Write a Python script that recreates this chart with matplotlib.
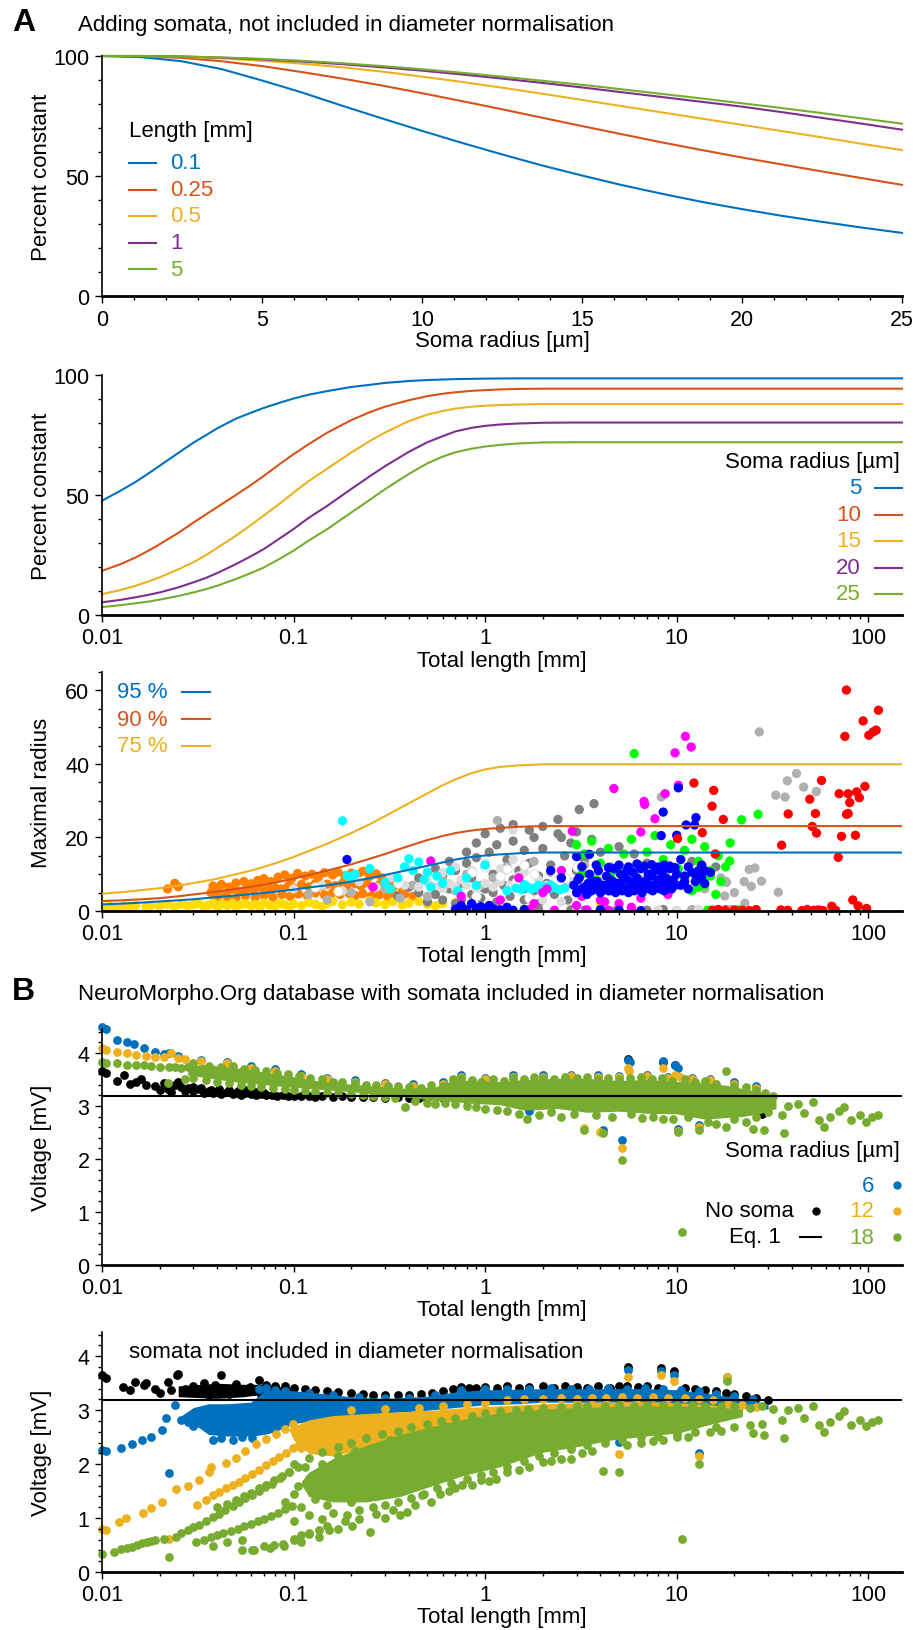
import matplotlib
matplotlib.use("Agg")
import matplotlib.pyplot as plt
from matplotlib.lines import Line2D
from matplotlib.ticker import MultipleLocator, LogLocator, FuncFormatter, NullFormatter

plt.rcParams['font.family'] = ['Liberation Sans', 'DejaVu Sans']

W, H = 919, 1631

BLUE = '#0072BD'
ORANGE = '#D95319'
YELLOW = '#EDB120'
PURPLE = '#7E2F8E'
GREEN = '#77AC30'

# ---------------- A1: percent constant vs soma radius ----------------
a1_radius = [0, 1.25, 2.5, 3.75, 5, 6.25, 7.5, 8.75, 10, 11.25, 12.5,
             13.75, 15, 16.25, 17.5, 18.75, 20, 21.25, 22.5, 23.75, 25]
a1_len_labels = ['0.1', '0.25', '0.5', '1', '5']
a1_l01 = [100, 99.5, 97.8, 94.5, 89.8, 84.8, 79.3, 74, 68.8, 63.8, 59,
          54.4, 50.2, 46.2, 42.6, 39.2, 36.2, 33.4, 30.9, 28.5, 26.3]
a1_l025 = [100, 99.9, 99.2, 97.8, 95.8, 93.3, 90.6, 87.7, 84.5, 81.2, 77.8,
           74.3, 70.8, 67.4, 64, 60.8, 57.7, 54.8, 51.9, 49.1, 46.3]
a1_l05 = [100, 100, 99.6, 99, 98, 96.8, 95.3, 93.5, 91.4, 89.2, 86.8,
          84.3, 81.7, 79.1, 76.5, 73.9, 71.3, 68.7, 66.1, 63.4, 60.8]
a1_l1 = [100, 100, 99.8, 99.3, 98.6, 97.7, 96.6, 95.3, 93.9, 92.3, 90.6,
         88.8, 86.9, 84.9, 82.9, 80.9, 78.9, 76.6, 74.2, 71.8, 69.3]
a1_l5 = [100, 100, 99.8, 99.4, 98.8, 98, 97, 95.8, 94.5, 93, 91.4,
         89.7, 88, 86.1, 84.2, 82.3, 80.3, 78.3, 76.2, 74, 71.8]

# ---------------- A2: percent constant vs total length ----------------
a2_len = [0.01, 0.0125, 0.015, 0.0175, 0.02, 0.025, 0.03, 0.035, 0.04, 0.05,
          0.06, 0.07, 0.085, 0.1, 0.12, 0.15, 0.2, 0.25, 0.3, 0.4,
          0.5, 0.6, 0.7, 0.85, 1, 1.2, 1.5, 2, 3, 5, 10, 150]
a2_soma_labels = ['5', '10', '15', '20', '25']
a2_r5 = [47.6, 51.8, 55.5, 59.0, 62.2, 67.5, 71.8, 75.0, 77.8, 81.8,
         84.3, 86.3, 88.5, 90.2, 91.8, 93.3, 95.0, 95.9, 96.7, 97.5,
         97.9, 98.1, 98.3, 98.4, 98.5, 98.55, 98.6, 98.6, 98.6, 98.6, 98.6, 98.6]
a2_r10 = [18.4, 21.2, 24.0, 26.8, 29.5, 34.2, 38.5, 42.0, 45.0, 50.0,
          54.2, 58.0, 63.0, 67.0, 71.2, 76.0, 81.2, 84.5, 86.8, 89.5,
          91.2, 92.2, 92.8, 93.4, 93.7, 94.0, 94.2, 94.3, 94.3, 94.3, 94.3, 94.3]
a2_r15 = [8.7, 10.4, 12.2, 14.0, 15.7, 19.0, 22.0, 25.0, 28.0, 33.0,
          37.5, 41.5, 46.5, 51.0, 55.8, 61.0, 67.7, 72.5, 76.0, 80.8,
          83.5, 85.0, 86.0, 86.8, 87.2, 87.5, 87.7, 87.9, 87.9, 87.9, 87.9, 87.9]
a2_r20 = [5.3, 6.3, 7.4, 8.4, 9.4, 11.5, 13.6, 15.5, 17.5, 21.2,
          24.5, 27.5, 32.0, 35.8, 40.5, 45.5, 52.5, 57.8, 62.0, 68.0,
          72.0, 74.5, 76.5, 78.0, 78.8, 79.4, 79.8, 80.1, 80.2, 80.2, 80.2, 80.2]
a2_r25 = [3.3, 4.1, 4.9, 5.6, 6.4, 7.9, 9.4, 10.8, 12.2, 15.0,
          17.5, 19.8, 23.5, 26.8, 31.0, 35.8, 42.7, 48.0, 52.4, 58.8,
          63.2, 66.0, 67.8, 69.3, 70.2, 70.9, 71.5, 71.9, 72.0, 72.0, 72.0, 72.0]

# ---------------- A3: maximal radius ----------------
a3_pct_labels = ['95 %', '90 %', '75 %']
a3_p95 = [1.8, 2.0, 2.2, 2.4, 2.6, 2.9, 3.2, 3.5, 3.8, 4.2,
          4.6, 4.9, 5.4, 5.8, 6.4, 7.0, 8.0, 8.9, 9.8, 11.2,
          12.3, 13.2, 14.0, 14.7, 15.1, 15.4, 15.7, 15.9, 15.9, 15.9, 15.9, 15.9]
a3_p90 = [2.7, 2.9, 3.1, 3.3, 3.5, 4.0, 4.5, 4.9, 5.3, 6.0,
          6.6, 7.2, 8.0, 8.8, 9.8, 11.0, 12.7, 14.2, 15.5, 17.7,
          19.3, 20.4, 21.2, 21.9, 22.3, 22.6, 22.9, 23.1, 23.1, 23.1, 23.1, 23.1]
a3_p75 = [4.7, 5.1, 5.5, 5.9, 6.2, 6.9, 7.6, 8.2, 8.8, 10.0,
          11.0, 12.0, 13.4, 14.7, 16.3, 18.3, 21.2, 23.6, 25.8, 29.3,
          32.0, 34.2, 35.8, 37.5, 38.5, 39.2, 39.6, 39.9, 39.9, 39.9, 39.9, 39.9]

a3_orange_x = [0.038, 0.042, 0.046, 0.05, 0.055, 0.06, 0.065, 0.07, 0.076, 0.083,
               0.09, 0.098, 0.105, 0.115, 0.125, 0.135, 0.145, 0.16, 0.17, 0.185,
               0.2, 0.215, 0.23, 0.25, 0.27, 0.29, 0.32, 0.35,
               0.037, 0.04, 0.044, 0.048, 0.052, 0.057, 0.062, 0.068, 0.073, 0.079,
               0.086, 0.094, 0.1, 0.11, 0.12, 0.13, 0.14, 0.15, 0.165, 0.18,
               0.19, 0.21, 0.225, 0.24, 0.26, 0.28, 0.3, 0.33, 0.37,
               0.04, 0.045, 0.05, 0.056, 0.063, 0.07, 0.078, 0.087, 0.096, 0.106,
               0.118, 0.13, 0.145, 0.16, 0.175, 0.195, 0.21, 0.23, 0.255, 0.28,
               0.31, 0.34, 0.38, 0.42, 0.022, 0.024, 0.025]
a3_orange_y = [6.8, 7.2, 6.5, 7.6, 8.0, 7.4, 8.3, 8.8, 8.0, 9.2,
               9.8, 8.9, 10.2, 9.5, 10.0, 9.2, 10.4, 9.8, 10.6, 9.6,
               10.3, 9.9, 10.8, 9.4, 10.1, 9.0, 8.6, 8.0,
               5.0, 5.6, 4.8, 5.9, 5.3, 6.2, 5.5, 6.4, 5.8, 6.6,
               6.0, 6.9, 6.3, 7.2, 6.6, 7.5, 6.8, 7.3, 6.9, 7.6,
               7.0, 7.4, 6.8, 7.7, 6.5, 7.1, 6.2, 6.6, 5.8,
               3.6, 3.9, 3.4, 4.1, 3.7, 4.3, 3.8, 4.5, 4.0, 4.6,
               4.2, 4.9, 4.4, 5.0, 4.5, 4.8, 4.2, 4.7, 4.1, 4.4,
               3.9, 4.3, 4.6, 4.0, 6.0, 7.5, 6.6]
a3_yellow_x = [0.010, 0.011, 0.012, 0.013, 0.014, 0.015, 0.017, 0.018, 0.020, 0.022,
               0.024, 0.026, 0.028, 0.030, 0.032, 0.034, 0.036, 0.038, 0.040, 0.042,
               0.045, 0.048, 0.050, 0.053, 0.056, 0.060, 0.063, 0.067, 0.070, 0.075,
               0.080, 0.085, 0.090, 0.095, 0.10, 0.11, 0.12, 0.13, 0.14, 0.15,
               0.16, 0.18, 0.20, 0.22, 0.25, 0.27, 0.30, 0.33, 0.37, 0.40,
               0.45, 0.50, 0.55, 0.60, 0.70, 4.0]
a3_yellow_y = [1.0, 1.3, 0.9, 1.4, 1.1, 1.5, 1.2, 1.6, 1.3, 1.8,
               1.1, 1.9, 1.4, 1.7, 2.0, 1.3, 1.6, 2.2, 1.0, 1.9,
               1.5, 2.1, 1.2, 1.7, 2.0, 1.4, 1.8, 1.1, 2.2, 1.6,
               1.3, 2.0, 1.7, 1.2, 1.9, 1.5, 2.3, 1.8, 1.2, 2.0,
               2.6, 1.7, 2.4, 1.9, 2.8, 2.2, 1.8, 2.5, 1.6, 2.1,
               2.6, 1.8, 1.4, 2.0, 2.3, 2.1]
a3_dgray_x = [0.35, 0.4, 0.45, 0.5, 0.55, 0.6, 0.65, 0.7, 0.75, 0.8,
              0.85, 0.9, 0.95, 1.0, 1.05, 1.1, 1.15, 1.2, 1.3, 1.4,
              1.5, 1.6, 1.7, 1.8, 1.9, 2.0, 2.2, 2.4, 2.6, 2.8,
              3.0, 3.3, 3.6, 4.0, 4.5, 5.0, 5.5, 6.0, 7.0, 8.0,
              9.0, 10, 12, 14, 16, 18, 2.4, 3.1, 3.7, 0.75,
              0.85, 1.0, 1.1, 1.25, 1.4, 1.6, 1.8, 2.1,
              0.45, 0.55, 0.65, 0.8, 0.9, 1.0, 1.2, 1.4, 1.7, 2.0,
              2.5, 3.0, 0.5, 0.6, 0.7, 0.95, 1.15, 1.35, 1.6, 1.9,
              2.3, 2.7,
              0.9, 1.1, 1.3, 1.6, 1.9, 2.3, 2.8, 3.3, 4.0, 4.8,
              5.8, 7.0, 8.5, 10, 12, 15, 18]
a3_dgray_y = [4.0, 6.5, 5.0, 8.0, 4.5, 9.5, 6.0, 11.0, 7.5, 13.0,
              9.0, 14.5, 6.5, 12.0, 16.0, 10.0, 18.0, 8.0, 14.0, 19.0,
              11.0, 16.5, 13.0, 20.0, 9.5, 17.0, 12.5, 21.0, 15.0, 18.5,
              11.0, 14.0, 19.5, 16.0, 12.0, 17.5, 10.0, 15.5, 13.0, 9.0,
              12.5, 11.0, 13.5, 10.5, 12.0, 8.0, 24.9, 27.6, 29.2, 3.0,
              4.5, 6.0, 5.0, 7.0, 8.5, 6.0, 5.5, 7.5,
              9.0, 11.5, 13.5, 16.0, 18.5, 21.0, 22.5, 23.5, 22.0, 23.0,
              20.0, 21.5, 2.5, 3.0, 2.0, 3.5, 2.5, 4.0, 3.0, 2.0,
              4.5, 3.0,
              0.3, 0.1, 0.5, 0.2, 0.4, 0.1, 0.3, 0.2, 0.5, 0.1,
              0.3, 0.2, 0.4, 0.1, 0.3, 0.2, 0.4]
a3_mgray_x = [0.12, 0.15, 0.2, 0.25, 0.3, 0.36, 0.42, 0.5, 0.6, 0.7,
              0.8, 0.95, 1.1, 1.3, 1.5, 1.8, 2.2, 2.7, 3.3, 4.0,
              5.0, 6.5, 8.0, 11, 14, 17, 20, 27, 42.2, 37.8,
              46, 53.6, 32.9, 36.8, 25.6, 23.9, 22.5, 24.5, 27.7, 33.9,
              22.7, 18.2, 17.8, 8.3, 1.16, 12, 15, 19]
a3_mgray_y = [4.5, 3.0, 5.0, 2.5, 6.0, 3.5, 7.0, 4.0, 8.5, 5.5,
              10.0, 7.0, 9.0, 12.0, 8.0, 13.5, 10.5, 7.5, 12.5, 9.5,
              11.5, 8.5, 10.0, 7.0, 6.0, 9.0, 5.0, 48.7, 37.4, 35.4,
              33.7, 32.5, 31.5, 31.0, 11.7, 11.3, 8.0, 6.7, 8.1, 5.1,
              2.1, 7.8, 4.1, 31.0, 24.6, 0.3, 0.1, 0.4]
a3_lgray_x = [0.1, 0.14, 0.18, 0.22, 0.27, 0.32, 0.38, 0.45, 0.5, 0.55,
              0.6, 0.65, 0.7, 0.75, 0.8, 0.9, 1.0, 1.1, 1.2, 1.35,
              1.5, 1.7, 1.9, 2.1, 2.4, 2.8, 3.2, 3.8, 4.5, 5.5,
              7, 9, 0.6, 0.7, 0.85, 1.0, 1.2, 1.4, 1.6, 1.4,
              2.0, 2.5, 3, 4, 5, 6.5, 8, 10, 13]
a3_lgray_y = [6.0, 7.0, 5.5, 8.0, 6.5, 9.0, 7.0, 6.5, 8.0, 7.0,
              6.0, 7.5, 6.5, 8.5, 7.0, 6.0, 7.5, 6.5, 8.0, 7.0,
              9.5, 6.5, 8.5, 7.0, 10.0, 8.0, 6.5, 9.0, 11.0, 7.5,
              12.0, 8.5, 10.5, 12.0, 11.0, 13.0, 11.5, 14.0, 10.5, 22.0,
              3.0, 2.5, 0.3, 0.2, 0.4, 0.1, 0.3, 0.2, 0.4]
a3_white_x = [0.13, 0.17, 0.35, 0.55, 0.85, 1.0, 1.2, 1.3, 1.45, 1.6,
              1.8, 2.0, 2.3, 2.6, 3.0, 3.5, 4.2, 5.0, 6.0, 7.5,
              9.0, 11, 0.9, 1.7, 2.9]
a3_white_y = [6.5, 5.5, 7.5, 9.0, 10.5, 12.0, 9.5, 11.5, 8.0, 12.5,
              10.0, 6.0, 11.0, 9.0, 12.0, 7.0, 10.0, 8.5, 11.5, 9.5,
              12.5, 10.0, 4.0, 3.5, 5.0]
a3_cyan_x = [0.18, 0.19, 0.2, 0.21, 0.25, 0.3, 0.32, 0.35, 0.38, 0.4,
             0.42, 0.45, 0.48, 0.5, 0.52, 0.56, 0.6, 0.66, 0.72, 0.8,
             0.9, 1.0, 1.3, 1.45, 1.55, 1.65, 1.75, 1.85, 1.95, 2.05,
             2.15, 2.3, 2.45, 2.6, 1.6, 1.9, 2.2]
a3_cyan_y = [24.5, 9.6, 9.0, 10.0, 11.5, 7.8, 6.0, 9.0, 12.0, 14.2,
             11.0, 13.3, 8.5, 10.5, 6.5, 9.5, 7.5, 11.0, 5.5, 9.0,
             7.0, 12.5, 5.5, 6.2, 5.8, 6.6, 6.0, 6.4, 5.7, 6.5,
             6.0, 6.3, 5.8, 6.2, 7.2, 7.0, 7.1]
a3_magenta_x = [0.26, 0.52, 0.75, 1.2, 1.5, 1.8, 2.1, 2.5, 2.85, 3.2,
                3.6, 4.0, 4.5, 5.0, 5.5, 6.5, 7.5, 9.0, 4.7, 6.75,
                6.8, 8.7, 10.2, 7.7, 6.5, 11.1, 11.9, 9.8, 2.0, 3.0,
                4.2, 5.8, 1.0, 1.3, 1.7, 2.3, 3.4, 4.4]
a3_magenta_y = [6.5, 13.6, 4.0, 3.0, 9.0, 2.0, 6.0, 11.0, 21.7, 4.0,
                7.5, 3.0, 5.5, 2.0, 8.0, 3.5, 6.0, 4.5, 33.3, 29.8,
                29.0, 31.9, 34.2, 25.1, 21.5, 47.5, 44.6, 43.0, 5.0, 1.5,
                2.5, 1.0, 0.3, 0.1, 0.4, 0.2, 0.3, 0.2]
a3_green_x = [6.0, 3.0, 3.3, 3.6, 4.0, 4.4, 4.8, 5.3, 5.8, 6.4,
              7.0, 7.7, 8.5, 9.3, 10.2, 11, 12, 13, 14, 15,
              16.5, 18, 19, 21.8, 26.6, 18.9, 3.2, 3.8, 4.5, 5.2,
              6.0, 7.0, 8.2, 9.5, 11, 13, 15, 17, 12, 14,
              16, 14.5, 21]
a3_green_y = [42.8, 18.0, 15.5, 19.0, 13.0, 17.0, 11.0, 15.5, 19.5, 12.5,
              16.0, 20.5, 14.0, 18.0, 11.5, 16.5, 19.5, 13.5, 17.5, 9.5,
              15.0, 12.0, 18.5, 24.8, 26.3, 13.6, 10.0, 8.5, 9.5, 7.0,
              10.5, 8.0, 11.5, 7.5, 9.0, 6.5, 11.0, 8.0, 5.5, 7.0,
              4.5, 0.2, 0.3]
a3_blue_x = [2.9, 3.1, 3.3, 3.5, 3.7, 3.9, 4.1, 4.3, 4.5, 4.7,
             4.9, 5.1, 5.3, 5.5, 5.7, 5.9, 6.2, 6.5, 6.8, 7.1,
             7.4, 7.7, 8.0, 8.4, 8.8, 9.2, 9.6, 10.0,
             3.0, 3.2, 3.4, 3.6, 3.8, 4.0, 4.2, 4.4, 4.6, 4.8,
             5.0, 5.2, 5.4, 5.6, 5.8, 6.0, 6.3, 6.6, 6.9, 7.2,
             7.5, 7.8, 8.2, 8.6, 9.0, 9.4, 9.8,
             3.05, 3.45, 3.85, 4.25, 4.65, 5.05, 5.45, 5.85, 6.35, 6.95,
             7.55, 8.15, 8.75, 9.35,
             10.5, 11, 11.5, 12, 12.5, 13, 13.5, 14, 3.2, 3.8,
             4.4, 5.0, 5.6, 6.2, 6.8, 7.4, 8.0, 8.6, 9.2, 9.8,
             10.2, 8.5, 12.6, 11.2, 12.4, 8.3, 10, 3.0, 3.5, 0.19,
             10.5, 11.5, 12.5, 13.5, 11, 14, 15, 2.5, 2.2,
             0.7, 0.75, 0.8, 0.85, 0.9, 0.95, 1.0, 1.05, 1.1, 1.2,
             1.3, 1.4, 1.6, 4, 5, 6.5]
a3_blue_y = [7.0, 9.0, 6.5, 10.0, 8.0, 11.0, 7.0, 9.5, 8.5, 11.5,
             7.5, 10.0, 9.0, 11.0, 8.0, 10.5, 9.0, 11.5, 8.0, 10.0,
             9.5, 11.0, 8.5, 10.5, 9.0, 11.5, 8.5, 10.0,
             5.0, 6.0, 4.5, 5.5, 6.0, 5.0, 6.5, 5.5, 6.0, 5.0,
             6.5, 5.5, 6.0, 5.0, 6.5, 5.5, 6.0, 5.0, 6.5, 6.0,
             5.5, 6.5, 6.0, 5.5, 6.5, 6.0, 7.0,
             8.5, 7.5, 8.0, 7.0, 8.0, 7.5, 8.5, 7.0, 7.5, 8.0,
             7.0, 7.5, 7.0, 8.0,
             7.0, 9.5, 6.0, 10.5, 8.0, 11.0, 9.0, 7.5, 12.0, 12.5,
             11.8, 12.5, 12.0, 12.8, 12.2, 12.6, 12.0, 12.5, 12.2, 11.8,
             33.5, 26.9, 25.4, 23.4, 23.4, 20.5, 20.6, 14.8, 15.4, 14,
             14, 12, 10, 12.5, 8, 11, 10.5, 9, 11,
             0.5, 1.5, 0.3, 2.0, 0.8, 1.2, 0.2, 1.5, 0.6, 0.3,
             1.0, 0.2, 0.4, 0.3, 0.2, 0.1]
a3_red_x = [76.9, 113, 94, 75.5, 100.7, 106, 110, 12.3, 15.6, 15.3,
            17.5, 13.6, 10.1, 15.9, 57, 49.5, 53, 38.2, 51, 53.7,
            35.3, 70.5, 78.5, 80, 87, 89.8, 96, 77, 78.5, 72.5,
            85.7, 69.7, 83, 88.5, 98, 64.5, 67.5,
            15.4, 16.5, 18, 20, 22, 24, 26, 35, 38, 45,
            48, 52, 55, 58]
a3_red_y = [60.1, 54.6, 51.7, 47.5, 47.8, 48.7, 49.2, 34.8, 32.8, 28.5,
            24.9, 21.3, 19.7, 15.5, 35.5, 30.4, 26.5, 26.4, 23.0, 21.2,
            17.9, 31.9, 31.9, 29.5, 32.4, 30.8, 33.9, 26.3, 26.5, 20.3,
            20.6, 14.6, 3.0, 1.4, 0.7, 1.3, 0.2,
            0.2, 0.4, 0.1, 0.3, 0.2, 0.1, 0.4, 0.3, 0.2, 0.1,
            0.4, 0.2, 0.3, 0.1]

# ---------------- B: voltage, shared Eq. 1 level ----------------
eq1_voltage = 3.18
b_soma_labels = ['6', '12', '18']

b_tail_x = [25, 28.5, 35.5, 36.5, 38, 43, 46, 51.5, 55, 59,
            63, 70, 75, 81, 90, 97, 105, 112, 10.7]
b_tail_y = [2.57, 2.54, 2.82, 2.48, 3.0, 3.04, 2.86, 3.08, 2.73, 2.6,
            2.79, 2.9, 2.98, 2.73, 2.82, 2.7, 2.79, 2.82, 0.62]

# B1 (somata included)
b1_black_x = [0.01, 0.0105, 0.012, 0.013, 0.014, 0.015, 0.016, 0.017, 0.019, 0.02,
              0.021, 0.022, 0.023, 0.024, 0.025, 0.026, 0.027, 0.028, 0.03, 0.032,
              0.034, 0.036, 0.038, 0.04, 0.042, 0.045, 0.048, 0.05, 0.053, 0.056,
              0.06, 0.064, 0.068, 0.072, 0.077, 0.082, 0.088, 0.094, 0.1, 0.11,
              0.12, 0.13, 0.14, 0.16, 0.18, 0.2, 0.23, 0.26, 0.3, 0.35,
              0.4, 0.45, 0.5, 0.6, 0.7, 0.8, 5.6, 8.5, 9.8, 28,
              0.03, 0.033, 0.037, 0.041, 0.046, 0.051, 0.057, 0.063, 0.07]
b1_black_y = [3.66, 3.62, 3.47, 3.58, 3.42, 3.45, 3.5, 3.4, 3.38, 3.3,
              3.43, 3.31, 3.26, 3.4, 3.46, 3.36, 3.28, 3.33, 3.28, 3.31,
              3.25, 3.29, 3.24, 3.27, 3.22, 3.26, 3.23, 3.25, 3.21, 3.24,
              3.22, 3.2, 3.23, 3.2, 3.21, 3.19, 3.2, 3.18, 3.19, 3.18,
              3.19, 3.17, 3.18, 3.17, 3.18, 3.16, 3.17, 3.16, 3.15, 3.16,
              3.15, 3.14, 3.15, 3.14, 3.13, 3.12, 3.88, 3.83, 3.78, 2.85,
              3.35, 3.33, 3.3, 3.32, 3.3, 3.28, 3.3, 3.27, 3.25]
b1_blue_x = [0.01, 0.0105, 0.012, 0.0135, 0.0147, 0.0165, 0.019, 0.021, 0.0225, 0.025,
             0.033, 0.045, 0.06, 0.08, 0.11, 0.15, 0.21, 0.3, 0.42, 0.6,
             0.75, 1.0, 1.4, 2.0, 2.8, 3.9, 5.0, 7.0, 9.0, 12,
             15, 20, 26,
             5.6, 5.7, 8.5, 9.8, 10.2, 5.2, 10.2, 13, 1.7, 4.1]
b1_blue_y = [4.48, 4.45, 4.25, 4.2, 4.16, 4.09, 4.02, 3.98, 4.0, 3.95,
             3.87, 3.83, 3.75, 3.69, 3.6, 3.53, 3.48, 3.44, 3.41, 3.45,
             3.58, 3.53, 3.58, 3.58, 3.59, 3.58, 3.57, 3.59, 3.55, 3.53,
             3.51, 3.45, 3.37,
             3.87, 3.82, 3.84, 3.78, 3.72, 2.35, 2.57, 2.64, 2.9, 2.55]
b1_yellow_x = [0.01, 0.0105, 0.012, 0.0135, 0.015, 0.017, 0.019, 0.021, 0.023, 0.025,
               0.027,
               0.033, 0.045, 0.06, 0.08, 0.11, 0.15, 0.21, 0.3, 0.42, 0.6,
               0.75, 1.0, 1.4, 2.0, 2.8, 3.9, 5.0, 7.0, 9.0, 12,
               15, 20, 26,
               5.6, 5.65, 8.5, 9.8, 10.4, 5.2, 10.2, 4.0, 3.3, 13]
b1_yellow_y = [4.09, 4.06, 4.02, 3.99, 3.96, 3.94, 3.92, 3.93, 3.99, 3.9,
               3.88,
               3.84, 3.8, 3.72, 3.66, 3.57, 3.5, 3.45, 3.41, 3.38, 3.42,
               3.55, 3.5, 3.55, 3.55, 3.56, 3.55, 3.54, 3.56, 3.52, 3.5,
               3.48, 3.42, 3.34,
               3.72, 3.66, 3.72, 3.58, 3.55, 2.21, 2.52, 2.5, 2.58, 2.6]
b1_green_left_x = [0.01, 0.0105, 0.012, 0.0135, 0.015, 0.0165, 0.018, 0.02, 0.022, 0.0225,
                   0.024, 0.026, 0.027, 0.028]
b1_green_left_y = [3.83, 3.8, 3.8, 3.78, 3.78, 3.77, 3.76, 3.74, 3.44, 3.74,
                   3.73, 3.72, 3.5, 3.74]
b1_green_top_x = [0.03, 0.036, 0.042, 0.048, 0.055, 0.063, 0.072, 0.082, 0.094, 0.107,
                  0.122, 0.14, 0.16, 0.18, 0.21, 0.24, 0.27, 0.31, 0.35, 0.4,
                  0.46, 0.52, 0.6, 0.68, 0.75, 0.85, 0.95, 1.1, 1.25, 1.4,
                  1.6, 1.8, 2.0, 2.3, 2.6, 3.0, 3.4, 3.9, 4.4, 5.0,
                  5.7, 6.5, 7.4, 8.4, 9.5, 11, 12.5, 14, 16, 18,
                  20, 23, 26, 29, 32]
b1_green_top_y = [3.8, 3.76, 3.74, 3.75, 3.7, 3.68, 3.66, 3.62, 3.6, 3.56,
                  3.52, 3.5, 3.46, 3.45, 3.43, 3.4, 3.4, 3.37, 3.38, 3.36,
                  3.33, 3.4, 3.38, 3.5, 3.52, 3.48, 3.45, 3.5, 3.47, 3.52,
                  3.5, 3.55, 3.52, 3.5, 3.55, 3.52, 3.54, 3.5, 3.53, 3.5,
                  3.52, 3.55, 3.5, 3.52, 3.47, 3.5, 3.45, 3.47, 3.42, 3.65,
                  3.38, 3.35, 3.3, 3.25, 3.18]
b1_green_bot_x = [0.03, 0.035, 0.04, 0.046, 0.053, 0.06, 0.068, 0.078, 0.09, 0.1,
                  0.115, 0.13, 0.15, 0.17, 0.2, 0.23, 0.26, 0.3, 0.34, 0.38,
                  0.43, 0.5, 0.55, 0.62, 0.7, 0.8, 0.9, 1.0, 1.15, 1.3,
                  1.5, 1.65, 1.9, 2.2, 2.5, 2.9, 3.3, 3.8, 4.1, 4.6,
                  5.2, 5.8, 6.6, 7.5, 8.5, 9.6, 10.2, 11.5, 13, 14.5,
                  16, 18, 20, 23, 26, 30]
b1_green_bot_y = [3.52, 3.48, 3.45, 3.43, 3.4, 3.38, 3.36, 3.34, 3.32, 3.3,
                  3.28, 3.27, 3.25, 3.24, 3.22, 3.2, 3.18, 3.16, 3.14, 2.98,
                  3.1, 3.05, 3.04, 3.06, 3.04, 3.0, 2.98, 2.95, 2.93, 2.9,
                  2.85, 2.75, 2.82, 2.88, 2.8, 2.85, 2.55, 2.82, 2.48, 2.8,
                  1.98, 2.85, 2.78, 2.8, 2.76, 2.75, 2.5, 2.8, 2.55, 2.7,
                  2.65, 2.6, 2.75, 2.7, 2.8, 2.88]
# dense core of the green band (lower / upper envelope)
b1_core_x = [0.028, 0.034, 0.05, 0.07, 0.1, 0.14, 0.2, 0.3, 0.4, 0.55,
             0.7, 0.85, 1.2, 1.6, 2.4, 3.4, 5, 7, 10, 14,
             18, 22, 27, 33]
b1_core_lo = [3.58, 3.54, 3.45, 3.4, 3.35, 3.31, 3.27, 3.2, 3.16, 3.1,
              3.08, 3.05, 3.02, 2.92, 2.95, 2.88, 2.9, 2.86, 2.85, 2.75,
              2.78, 2.8, 2.85, 2.95]
b1_core_hi = [3.75, 3.78, 3.72, 3.64, 3.55, 3.46, 3.41, 3.36, 3.33, 3.36,
              3.5, 3.48, 3.46, 3.5, 3.52, 3.52, 3.48, 3.5, 3.46, 3.44,
              3.39, 3.33, 3.27, 3.15]

# B2 (somata not included)
b2_black_x = [0.01, 0.0105, 0.0128, 0.0148, 0.0166, 0.019, 0.022, 0.023, 0.0245, 0.025,
              0.027, 0.028, 0.032, 0.036, 0.039, 0.042, 0.043, 0.048, 0.053, 0.059,
              0.066, 0.068, 0.014, 0.017, 0.02, 0.03, 0.034, 0.046, 0.05, 0.062,
              0.072, 0.08, 0.09, 0.1, 0.115, 0.13, 0.15, 0.17, 0.2, 0.23,
              0.26, 0.3, 0.35, 0.4, 0.46, 0.53, 0.6, 0.68, 0.75, 0.82,
              0.9, 1.0, 1.15, 1.3, 1.5, 1.7, 2.0, 2.3, 2.6, 3.0,
              3.4, 3.9, 4.5, 5.0, 5.5, 5.56, 6.3, 7.0, 8.0, 8.3,
              9.7, 11, 12.5, 14, 16, 18, 20, 23, 26, 30]
b2_black_y = [3.65, 3.6, 3.43, 3.52, 3.46, 3.4, 3.52, 3.37, 3.65, 3.68,
              3.4, 3.34, 3.37, 3.28, 3.46, 3.65, 3.34, 3.4, 3.34, 3.43,
              3.56, 3.28, 3.38, 3.5, 3.32, 3.45, 3.5, 3.3, 3.48, 3.36,
              3.47, 3.45, 3.44, 3.42, 3.4, 3.38, 3.36, 3.34, 3.32, 3.3,
              3.29, 3.29, 3.28, 3.29, 3.3, 3.32, 3.36, 3.4, 3.43, 3.42,
              3.41, 3.43, 3.42, 3.44, 3.42, 3.43, 3.44, 3.42, 3.44, 3.43,
              3.42, 3.44, 3.42, 3.44, 3.45, 3.8, 3.43, 3.45, 3.42, 3.79,
              3.72, 3.42, 3.4, 3.38, 3.35, 3.32, 3.3, 3.26, 3.22, 3.18]
b2_black_core_x = [0.025, 0.04, 0.055, 0.07, 0.1]
b2_black_core_lo = [3.25, 3.22, 3.25, 3.3, 3.33]
b2_black_core_hi = [3.45, 3.5, 3.48, 3.48, 3.4]
b2_blue_x = [0.01, 0.0105, 0.0126, 0.0144, 0.0162, 0.018, 0.0206, 0.0215, 0.024, 0.028,
             0.032, 0.0224, 0.038, 0.042, 0.048, 0.054, 0.061, 0.034, 0.036, 0.03,
             0.066, 0.072, 0.08, 0.09, 0.026,
             0.12, 0.16, 0.22, 0.3, 0.4, 0.55, 0.75, 1.0, 1.3, 1.7,
             2.2, 2.8, 3.5, 4.4, 5.5, 6.8, 8.5, 10.5, 13, 16,
             20, 25,
             5.0, 5.1, 13, 5.56, 8.3, 9.7, 18.2]
b2_blue_y = [2.27, 2.25, 2.3, 2.38, 2.45, 2.5, 2.63, 2.86, 3.1, 2.79,
             2.76, 1.84, 2.45, 2.48, 2.45, 2.5, 2.48, 2.85, 3.0, 2.7,
             3.4, 3.42, 3.38, 3.36, 2.82,
             3.32, 3.28, 3.24, 3.22, 3.23, 3.28, 3.37, 3.39, 3.4, 3.39,
             3.41, 3.39, 3.4, 3.41, 3.39, 3.41, 3.4, 3.38, 3.35, 3.3,
             3.26, 3.2,
             2.41, 2.45, 2.2, 3.74, 3.73, 3.66, 3.62]
b2_blue_core_x = [0.026, 0.03, 0.036, 0.045, 0.06, 0.07, 0.08, 0.1, 0.15, 0.2,
                  0.3, 0.5, 0.7, 1, 1.5, 2, 3, 5, 7, 10,
                  14, 20, 25, 30]
b2_blue_core_hi = [2.9, 3.05, 3.12, 3.12, 3.15, 3.35, 3.38, 3.36, 3.3, 3.25,
                   3.22, 3.26, 3.34, 3.38, 3.39, 3.4, 3.4, 3.4, 3.4, 3.38,
                   3.32, 3.24, 3.17, 3.12]
b2_blue_core_lo = [2.85, 2.75, 2.55, 2.52, 2.52, 2.55, 2.6, 2.75, 2.85, 2.9,
                   2.95, 3.0, 3.05, 3.1, 3.12, 3.15, 3.15, 3.15, 3.15, 3.12,
                   3.1, 3.05, 3.02, 3.02]
b2_yellow_x = [0.01, 0.0105, 0.0123, 0.0133, 0.0163, 0.018, 0.0206, 0.0243, 0.028, 0.032,
               0.036, 0.037, 0.0443, 0.05, 0.056, 0.064, 0.072, 0.081, 0.09, 0.099,
               0.0315, 0.035, 0.038, 0.041, 0.0443, 0.048, 0.052, 0.056, 0.061, 0.066,
               0.072, 0.078, 0.084, 0.091, 0.099, 0.107, 0.116, 0.126, 0.136,
               0.12, 0.15, 0.18, 0.22, 0.27,
               0.11, 0.13, 0.15, 0.17, 0.19, 0.21, 0.24, 0.27, 0.3, 0.34,
               0.38, 0.43, 0.5, 0.58, 0.68, 0.8,
               0.2, 0.3, 0.45, 0.6, 0.8, 1.0, 1.3, 1.6, 2.0, 2.5,
               3.0, 3.6, 4.3, 5.2, 6.2, 7.5, 9, 11, 13, 15.5,
               18.5, 22, 26,
               0.0224, 5.0, 13, 5.56, 8.3, 9.7, 18.2]
b2_yellow_y = [0.8, 0.78, 0.92, 1.0, 1.09, 1.18, 1.3, 1.54, 1.6, 1.7,
               1.85, 1.95, 2.03, 2.12, 2.25, 2.37, 2.46, 2.56, 2.65, 2.74,
               1.25, 1.33, 1.42, 1.48, 1.55, 1.61, 1.67, 1.75, 1.82, 1.9,
               1.98, 2.05, 2.13, 2.21, 2.29, 2.38, 2.47, 2.55, 2.63,
               1.75, 1.95, 2.05, 2.15, 2.3,
               2.3, 2.35, 2.4, 2.45, 2.5, 2.55, 2.6, 2.66, 2.7, 2.74,
               2.78, 2.82, 2.85, 2.88, 2.92, 2.96,
               3.0, 3.03, 3.05, 3.08, 3.12, 3.14, 3.18, 3.2, 3.2, 3.22,
               3.2, 3.23, 3.22, 3.24, 3.22, 3.25, 3.22, 3.22, 3.2, 3.18,
               3.14, 3.1, 3.06,
               0.62, 2.18, 2.15, 3.62, 3.65, 3.55, 3.62]
b2_yellow_core_x = [0.095, 0.1, 0.12, 0.16, 0.24, 0.36, 0.53, 0.79, 1.19, 2,
                    3.1, 4.6, 6.9, 10.3, 15.4, 22]
b2_yellow_core_hi = [2.66, 2.7, 2.82, 2.9, 2.94, 2.97, 3.0, 3.05, 3.08, 3.12,
                     3.14, 3.15, 3.16, 3.14, 3.1, 3.02]
b2_yellow_core_lo = [2.62, 2.45, 2.2, 2.15, 2.3, 2.45, 2.6, 2.75, 2.85, 2.9,
                     2.95, 2.95, 3.0, 3.0, 2.95, 2.9]
b2_green_streak_x = [0.01, 0.0115, 0.0126, 0.0135, 0.0144, 0.0153, 0.0162, 0.0172, 0.018, 0.019,
                     0.021, 0.0243, 0.026, 0.028, 0.03, 0.032, 0.035, 0.038, 0.041, 0.044,
                     0.048, 0.052, 0.056, 0.061, 0.066, 0.071, 0.077,
                     0.031, 0.034, 0.037, 0.04, 0.043, 0.047, 0.051, 0.055, 0.06, 0.065,
                     0.07, 0.076, 0.083, 0.09, 0.098,
                     0.038, 0.045, 0.054, 0.061, 0.07, 0.079, 0.088, 0.1, 0.11, 0.12,
                     0.135, 0.15, 0.0224,
                     0.04, 0.045, 0.05, 0.055, 0.06, 0.066, 0.072, 0.079, 0.087, 0.095,
                     0.105]
b2_green_streak_y = [0.34, 0.38, 0.43, 0.45, 0.47, 0.5, 0.53, 0.55, 0.57, 0.6,
                     0.62, 0.65, 0.72, 0.78, 0.83, 0.87, 0.95, 1.02, 1.08, 1.15,
                     1.22, 1.3, 1.37, 1.43, 1.5, 1.57, 1.63,
                     0.55, 0.6, 0.64, 0.68, 0.72, 0.76, 0.8, 0.85, 0.89, 0.94,
                     0.99, 1.04, 1.1, 1.16, 1.22,
                     0.48, 0.55, 0.59, 0.4, 0.48, 0.5, 0.52, 0.6, 0.68, 0.72,
                     0.78, 0.85, 0.28,
                     1.2, 1.27, 1.33, 1.4, 1.47, 1.55, 1.62, 1.7, 1.78, 1.86,
                     1.95]
b2_green_mid_x = [0.085, 0.095, 0.105, 0.115, 0.125, 0.14, 0.155, 0.17, 0.19, 0.21,
                  0.23, 0.26, 0.29, 0.32, 0.36, 0.4, 0.45, 0.5, 0.56, 0.62,
                  0.09, 0.1, 0.11, 0.13, 0.15, 0.18, 0.2, 0.23, 0.27, 0.31]
b2_green_mid_y = [1.75, 1.85, 1.6, 1.95, 1.75, 2.0, 1.7, 2.15, 1.85, 2.25,
                  1.95, 2.3, 2.1, 2.45, 2.2, 2.5, 2.35, 2.6, 2.45, 2.7,
                  1.3, 1.45, 1.2, 1.35, 1.25, 1.4, 1.3, 1.45, 1.4, 1.55]
b2_green_bot_x = [0.054, 0.062, 0.075, 0.089, 0.1, 0.11, 0.12, 0.135, 0.153, 0.17,
                  0.185, 0.203, 0.22, 0.25, 0.27, 0.3, 0.33, 0.36, 0.39, 0.43,
                  0.47, 0.52, 0.58, 0.65, 0.7, 0.76, 0.85, 0.95, 1.05, 1.14,
                  1.3, 1.5, 1.7, 2.0, 2.2, 2.5, 2.8, 3.2, 3.6, 4.1,
                  5.0, 5.5, 6.5, 7.5, 8.5, 10, 11.5, 13, 15, 17,
                  20, 24, 28,
                  0.1, 0.12, 0.14, 0.16, 0.19, 0.22, 0.26, 0.3, 0.35, 0.41,
                  0.48, 0.56, 0.66, 0.8, 0.95, 1.1, 1.3, 1.6, 1.9, 2.3,
                  2.8, 3.4, 4.2, 5.2, 6.5, 8, 10, 12.5, 16]
b2_green_bot_y = [0.4, 0.41, 0.45, 0.49, 0.62, 0.55, 0.7, 0.65, 0.77, 0.8,
                  0.95, 0.86, 0.98, 0.74, 1.08, 1.0, 1.15, 1.05, 1.11, 1.25,
                  1.42, 1.3, 1.45, 1.5, 1.55, 1.61, 1.62, 1.7, 1.68, 1.73,
                  1.85, 1.9, 1.95, 2.04, 2.05, 2.1, 2.1, 2.2, 2.25, 1.87,
                  1.86, 2.35, 2.4, 2.42, 2.45, 2.5, 2.5, 2.0, 2.6, 2.62,
                  2.68, 2.72, 2.75,
                  0.95, 1.05, 0.98, 1.1, 1.05, 1.15, 1.2, 1.25, 1.3, 1.38,
                  1.45, 1.55, 1.65, 1.72, 1.8, 1.85, 1.95, 2.05, 2.15, 2.2,
                  2.28, 2.35, 2.4, 2.45, 2.5, 2.52, 2.55, 2.6, 2.68]
b2_green_top_x = [0.1, 0.12, 0.14, 0.17, 0.2, 0.24, 0.29, 0.35, 0.41, 0.5,
                  0.59, 0.7, 0.85, 1.0, 1.2, 1.45, 1.67, 2.0, 2.5, 3.0,
                  3.4, 4.2, 5.0, 6.0, 7.0, 8.5, 10, 12, 14, 17,
                  20, 24, 28, 32, 18.2]
b2_green_top_y = [2.0, 2.12, 2.22, 2.32, 2.4, 2.48, 2.56, 2.62, 2.68, 2.75,
                  2.8, 2.85, 2.9, 2.94, 2.98, 3.0, 3.02, 3.04, 3.06, 3.07,
                  3.08, 3.08, 3.1, 3.08, 3.1, 3.1, 3.1, 3.1, 3.08, 3.08,
                  3.08, 3.05, 3.08, 3.02, 3.55]
b2_green_core_x = [0.11, 0.12, 0.16, 0.24, 0.36, 0.53, 0.79, 1.19, 2.0, 3.1,
                   4.6, 6.9, 10.3, 15.4, 22]
b2_green_core_hi = [1.68, 1.85, 2.1, 2.35, 2.55, 2.7, 2.84, 2.95, 3.02, 3.05,
                    3.07, 3.08, 3.08, 3.06, 3.02]
b2_green_core_lo = [1.62, 1.4, 1.3, 1.3, 1.4, 1.6, 1.8, 1.95, 2.22, 2.33,
                    2.45, 2.52, 2.58, 2.75, 2.88]


def add_ax(fig, x0, y0, x1, y1):
    return fig.add_axes([x0 / W, 1 - y1 / H, (x1 - x0) / W, (y1 - y0) / H])


def ftext(fig, x, y, s, **kw):
    kw.setdefault('fontsize', 16)
    kw.setdefault('va', 'center')
    fig.text(x / W, 1 - y / H, s, **kw)


def fline(fig, x0, x1, y, c):
    fig.add_artist(Line2D([x0 / W, x1 / W], [1 - y / H, 1 - y / H], color=c, lw=1.5))


def fdot(fig, x, y, c):
    fig.add_artist(Line2D([x / W], [1 - y / H], marker='o', ms=5, color=c, lw=0))


def style(ax, logx, ymaj, ymin, xlabel, ylabel, h):
    for s in ['top', 'right']:
        ax.spines[s].set_visible(False)
    ax.spines['bottom'].set_linewidth(2.0)
    ax.spines['left'].set_linewidth(1.2)
    if logx:
        ax.set_xscale('log')
        ax.set_xlim(0.01, 150)
        ax.xaxis.set_major_locator(LogLocator(base=10, numticks=10))
        ax.xaxis.set_minor_locator(LogLocator(base=10, subs=range(2, 10), numticks=20))
        ax.xaxis.set_major_formatter(FuncFormatter(lambda v, p: '%g' % v))
        ax.xaxis.set_minor_formatter(NullFormatter())
    ax.yaxis.set_major_locator(MultipleLocator(ymaj))
    ax.yaxis.set_minor_locator(MultipleLocator(ymin))
    ax.tick_params(which='major', direction='out', length=5, width=1, labelsize=15.5, pad=4)
    ax.tick_params(which='minor', direction='out', length=3, width=1)
    ax.set_xlabel(xlabel, fontsize=16, va='center')
    ax.xaxis.set_label_coords(0.5, -45.0 / h)
    ax.set_ylabel(ylabel, fontsize=16, va='center')
    ax.yaxis.set_label_coords(-60.0 / 800, 0.5)


fig = plt.figure(figsize=(W / 100, H / 100), dpi=100)

# ---- A1 ----
ax = add_ax(fig, 102, 57, 902, 297)
a1_colors = [BLUE, ORANGE, YELLOW, PURPLE, GREEN]
for vals, c in zip([a1_l01, a1_l025, a1_l05, a1_l1, a1_l5], a1_colors):
    ax.plot(a1_radius, vals, color=c, lw=1.5, clip_on=False)
ax.set_xlim(0, 25)
ax.set_ylim(0, 100)
ax.xaxis.set_major_locator(MultipleLocator(5))
ax.xaxis.set_minor_locator(MultipleLocator(1))
style(ax, False, 50, 10, 'Soma radius [µm]', 'Percent constant', 240)
ftext(fig, 129, 132, 'Length [mm]')
for i, (lab, c) in enumerate(zip(a1_len_labels, a1_colors)):
    y = 164 + i * 26.5
    fline(fig, 129, 156, y, c)
    ftext(fig, 170, y, lab, color=c, ha='left')

# ---- A2 ----
ax = add_ax(fig, 102, 376, 902, 616)
for vals, c in zip([a2_r5, a2_r10, a2_r15, a2_r20, a2_r25], a1_colors):
    ax.plot(a2_len, vals, color=c, lw=1.5, clip_on=False)
ax.set_ylim(0, 100)
style(ax, True, 50, 10, 'Total length [mm]', 'Percent constant', 240)
ftext(fig, 900, 463, 'Soma radius [µm]', ha='right')
for i, (lab, c) in enumerate(zip(a2_soma_labels, a1_colors)):
    y = 489 + i * 26.5
    ftext(fig, 861, y, lab, color=c, ha='right')
    fline(fig, 875, 902, y, c)

# ---- A3 ----
ax = add_ax(fig, 102, 673, 902, 912)
a3_groups = [
    (a3_orange_x, a3_orange_y, '#FF8000'),
    (a3_yellow_x, a3_yellow_y, '#FFDD00'),
    (a3_dgray_x, a3_dgray_y, '#808080'),
    (a3_mgray_x, a3_mgray_y, '#B0B0B0'),
    (a3_lgray_x, a3_lgray_y, '#DCDCDC'),
    (a3_white_x, a3_white_y, '#FFFFFF'),
    (a3_cyan_x, a3_cyan_y, '#00FFFF'),
    (a3_magenta_x, a3_magenta_y, '#FF00FF'),
    (a3_green_x, a3_green_y, '#00FF00'),
    (a3_blue_x, a3_blue_y, '#0000FF'),
    (a3_red_x, a3_red_y, '#FF0000'),
]
for gx, gy, c in a3_groups:
    ec = '#D8D8D8' if c == '#FFFFFF' else 'none'
    ax.scatter(gx, gy, s=45, color=c, edgecolors=ec, linewidths=0.6, zorder=1)
for vals, c in zip([a3_p95, a3_p90, a3_p75], [BLUE, ORANGE, YELLOW]):
    ax.plot(a2_len, vals, color=c, lw=1.5, zorder=3)
ax.set_ylim(0, 65)
style(ax, True, 20, 5, 'Total length [mm]', 'Maximal radius', 239)
for i, (lab, c) in enumerate(zip(a3_pct_labels, [BLUE, ORANGE, YELLOW])):
    y = 693 + i * 27
    ftext(fig, 117, y, lab, color=c, ha='left')
    fline(fig, 182, 210, y, c)

# ---- B1 ----
ax = add_ax(fig, 102, 1030, 902, 1266)
pt = dict(s=40, linewidths=0, clip_on=False)
ax.scatter(b1_black_x, b1_black_y, color='black', zorder=1.1, **pt)
ax.scatter(b1_blue_x, b1_blue_y, color=BLUE, zorder=1.3, **pt)
ax.scatter(b1_yellow_x, b1_yellow_y, color=YELLOW, zorder=1.5, **pt)
ax.fill_between(b1_core_x, b1_core_lo, b1_core_hi, color=GREEN, lw=0, zorder=1.6)
ax.scatter(b1_green_left_x + b1_green_top_x + b1_green_bot_x + b_tail_x,
           b1_green_left_y + b1_green_top_y + b1_green_bot_y + b_tail_y,
           color=GREEN, zorder=1.7, **pt)
ax.axhline(eq1_voltage, color='black', lw=1.5, zorder=3)
ax.set_ylim(0, 4.45)
style(ax, True, 1, 0.2, 'Total length [mm]', 'Voltage [mV]', 236)

ftext(fig, 900, 1152, 'Soma radius [µm]', ha='right')
for i, (lab, c) in enumerate(zip(b_soma_labels, [BLUE, YELLOW, GREEN])):
    y = 1186 + i * 26
    ftext(fig, 874, y, lab, color=c, ha='right')
    fdot(fig, 897, y, c)
ftext(fig, 794, 1212, 'No soma', ha='right')
fdot(fig, 816, 1212, 'black')
ftext(fig, 781, 1238, 'Eq. 1', ha='right')
fline(fig, 800, 821, 1238, 'black')

# ---- B2 ----
ax = add_ax(fig, 102, 1333, 902, 1573)
ax.fill_between(b2_black_core_x, b2_black_core_lo, b2_black_core_hi, color='black', lw=0, zorder=1.0)
ax.scatter(b2_black_x, b2_black_y, color='black', zorder=1.1, **pt)
ax.fill_between(b2_blue_core_x, b2_blue_core_lo, b2_blue_core_hi, color=BLUE, lw=0, zorder=1.2)
ax.scatter(b2_blue_x, b2_blue_y, color=BLUE, zorder=1.3, **pt)
ax.fill_between(b2_yellow_core_x, b2_yellow_core_lo, b2_yellow_core_hi, color=YELLOW, lw=0, zorder=1.4)
ax.scatter(b2_yellow_x, b2_yellow_y, color=YELLOW, zorder=1.5, **pt)
ax.fill_between(b2_green_core_x, b2_green_core_lo, b2_green_core_hi, color=GREEN, lw=0, zorder=1.6)
ax.scatter(b2_green_streak_x + b2_green_mid_x + b2_green_bot_x + b2_green_top_x + b_tail_x,
           b2_green_streak_y + b2_green_mid_y + b2_green_bot_y + b2_green_top_y + b_tail_y,
           color=GREEN, zorder=1.7, **pt)
ax.axhline(eq1_voltage, color='black', lw=1.5, zorder=3)
ax.set_ylim(0, 4.45)
style(ax, True, 1, 0.2, 'Total length [mm]', 'Voltage [mV]', 240)
ftext(fig, 129, 1358, 'somata not included in diameter normalisation', va='baseline')

# ---- panel titles ----
ftext(fig, 12, 31, 'A', fontsize=23, fontweight='bold', va='baseline')
ftext(fig, 78, 31, 'Adding somata, not included in diameter normalisation', va='baseline')
ftext(fig, 12, 1000, 'B', fontsize=23, fontweight='bold', va='baseline')
ftext(fig, 78, 1000, 'NeuroMorpho.Org database with somata included in diameter normalisation',
      va='baseline')

fig.savefig('out.png', dpi=100)
